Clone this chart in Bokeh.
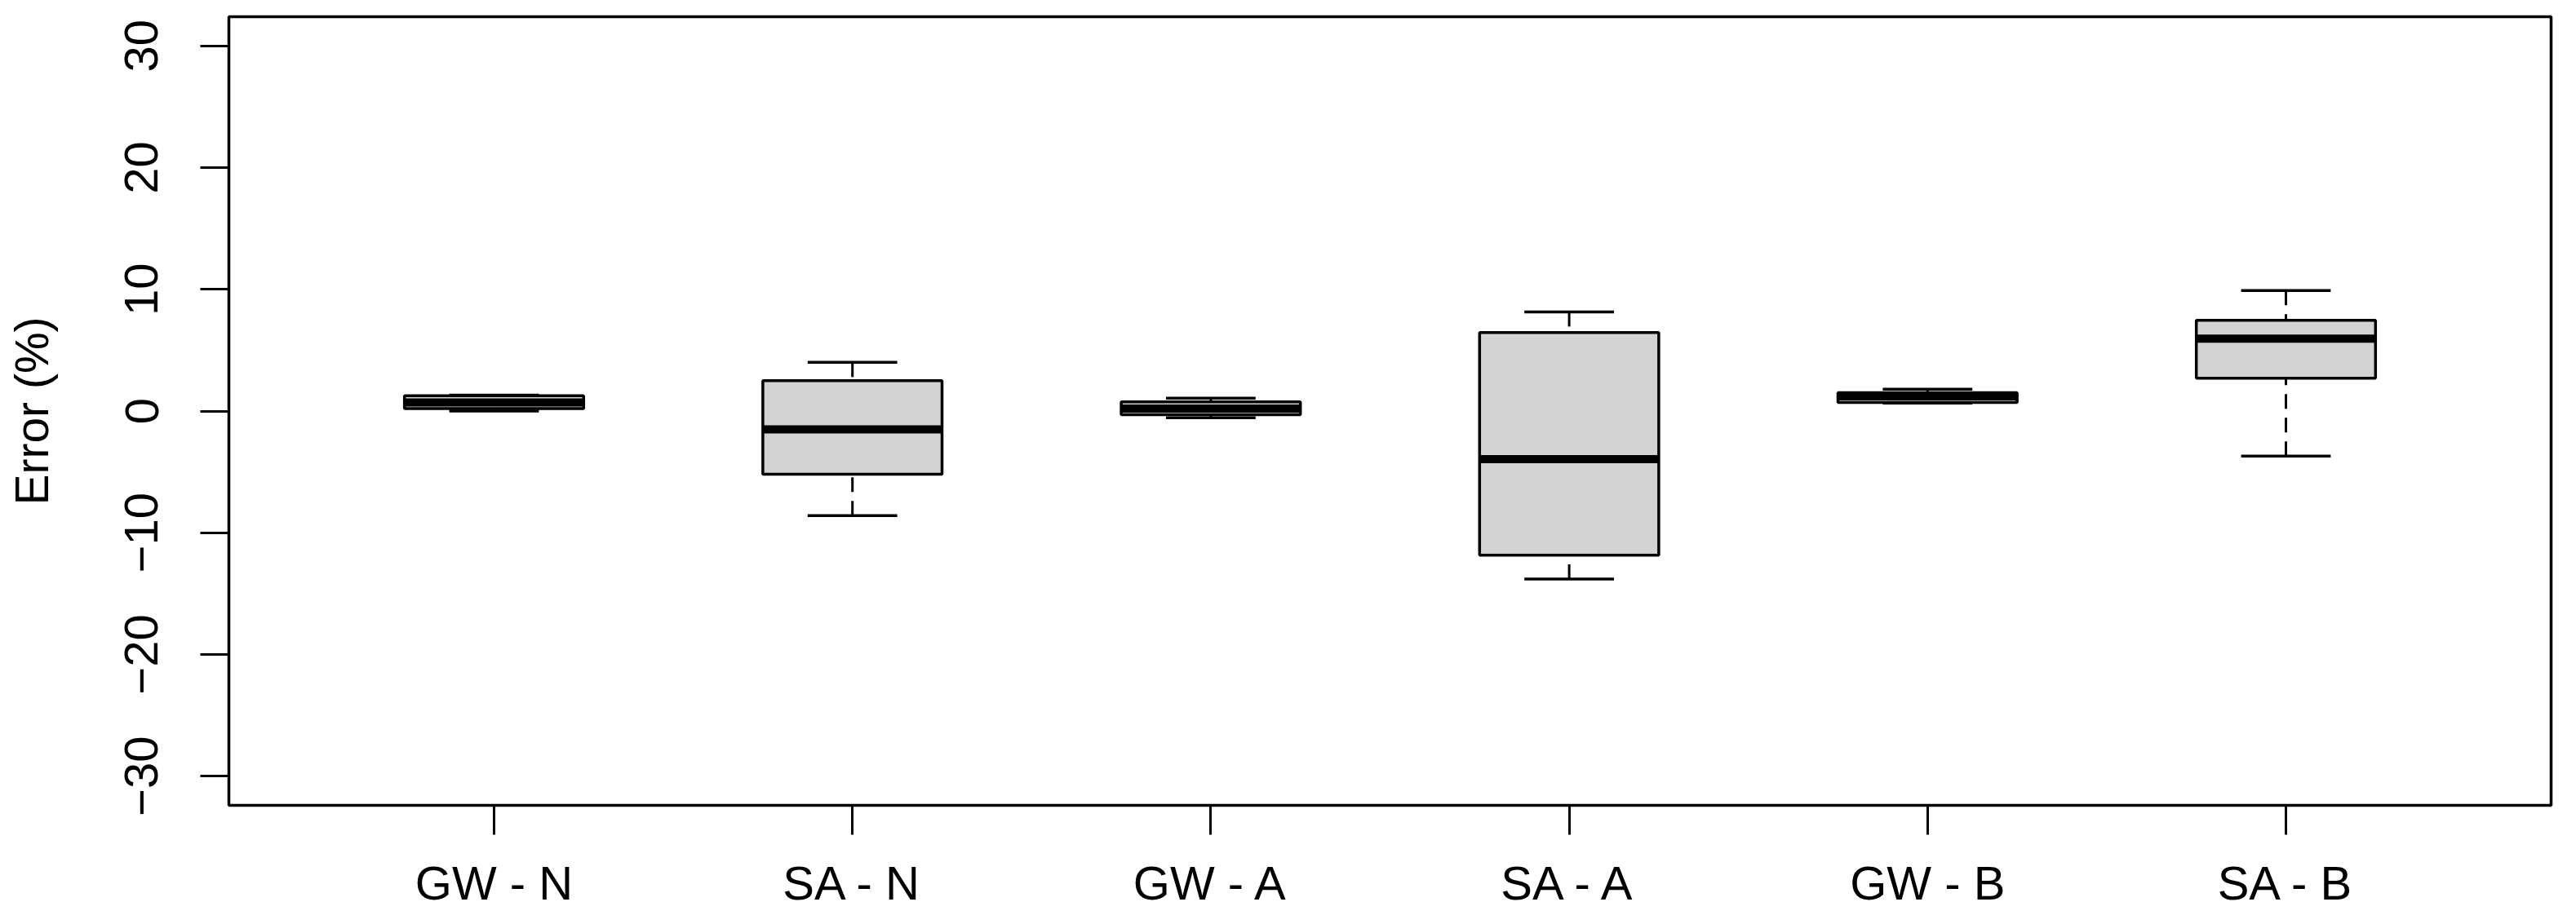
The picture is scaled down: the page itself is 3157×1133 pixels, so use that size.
from bokeh.plotting import figure
from bokeh.models import Range1d, FixedTicker
from bokeh.layouts import column
from bokeh.embed import file_html
from bokeh.resources import INLINE

categories = ["GW - N", "SA - N", "GW - A", "SA - A", "GW - B", "SA - B"]
lower_whisker = [0.0, -8.6, -0.55, -13.8, 0.65, -3.7]
q1 = [0.2, -5.2, -0.3, -11.85, 0.7, 2.7]
median = [0.7, -1.5, 0.2, -3.95, 1.2, 5.95]
q3 = [1.25, 2.5, 0.75, 6.45, 1.5, 7.45]
upper_whisker = [1.3, 4.0, 1.05, 8.15, 1.8, 9.9]
y_ticks = [-30, -20, -10, 0, 10, 20, 30]

xs = list(range(1, len(categories) + 1))
half_box = 0.25
half_cap = 0.125

FONT = "Liberation Sans"
W = 3141
H_MAIN = 1024
H_LAB = 93

p = figure(width=W, height=H_MAIN, output_backend="svg", toolbar_location=None,
           x_range=Range1d(0.26, 6.74), y_range=Range1d(-32.4, 32.4),
           min_border_left=280, min_border_right=15, min_border_top=20, min_border_bottom=37)
p.outline_line_color = "black"
p.outline_line_width = 3.5
p.xgrid.visible = False
p.ygrid.visible = False
p.background_fill_color = "white"
p.border_fill_color = "white"

# whiskers (dashed)
p.segment(x0=xs, y0=upper_whisker, x1=xs, y1=q3, line_color="black", line_width=3, line_dash="18 11")
p.segment(x0=xs, y0=lower_whisker, x1=xs, y1=q1, line_color="black", line_width=3, line_dash="18 11")
# staples
p.segment(x0=[x - half_cap for x in xs], y0=upper_whisker, x1=[x + half_cap for x in xs], y1=upper_whisker,
          line_color="black", line_width=3.5)
p.segment(x0=[x - half_cap for x in xs], y0=lower_whisker, x1=[x + half_cap for x in xs], y1=lower_whisker,
          line_color="black", line_width=3.5)
# boxes
p.quad(left=[x - half_box for x in xs], right=[x + half_box for x in xs], bottom=q1, top=q3,
       fill_color="#D3D3D3", line_color="black", line_width=3.5)
# medians
p.segment(x0=[x - half_box for x in xs], y0=median, x1=[x + half_box for x in xs], y1=median,
          line_color="black", line_width=10, line_cap="butt")

# x axis of the main plot: tick marks only
xa = p.xaxis[0]
xa.ticker = FixedTicker(ticks=xs)
xa.major_label_overrides = {x: "" for x in xs}
xa.major_label_text_font_size = "0px"
xa.major_label_standoff = 0
xa.axis_line_color = None
xa.major_tick_out = 36
xa.major_tick_in = 0
xa.major_tick_line_width = 3
xa.minor_tick_line_color = None

ya = p.yaxis[0]
ya.ticker = FixedTicker(ticks=y_ticks)
ya.axis_line_color = None
ya.major_tick_out = 35
ya.major_tick_in = 0
ya.major_tick_line_width = 3
ya.minor_tick_line_color = None
ya.major_label_orientation = "vertical"
ya.major_label_text_font = FONT
ya.major_label_text_font_size = "58px"
ya.major_label_text_color = "black"
ya.major_label_standoff = 52
ya.axis_label = "Error (%)"
ya.axis_label_text_font = FONT
ya.axis_label_text_font_size = "57px"
ya.axis_label_text_font_style = "normal"
ya.axis_label_text_color = "black"
ya.axis_label_standoff = 80

# strip below holding the category labels as an axis sharing the x scale
p2 = figure(width=W, height=H_LAB, output_backend="svg", toolbar_location=None,
            x_range=p.x_range, y_range=Range1d(0, 1), y_axis_type=None,
            min_border_left=280, min_border_right=15, min_border_top=0, min_border_bottom=0)
p2.outline_line_color = None
p2.xgrid.visible = False
p2.ygrid.visible = False
p2.background_fill_color = "white"
p2.border_fill_color = "white"
xb = p2.xaxis[0]
xb.ticker = FixedTicker(ticks=xs)
xb.major_label_overrides = {x: c for x, c in zip(xs, categories)}
xb.axis_line_color = None
xb.major_tick_line_color = None
xb.minor_tick_line_color = None
xb.major_tick_out = 0
xb.major_tick_in = 0
xb.major_label_standoff = 0
xb.major_label_text_font = FONT
xb.major_label_text_font_size = "58px"
xb.major_label_text_color = "black"

layout = column(p, p2, spacing=0)
open("out.html", "w").write(file_html(layout, INLINE))
